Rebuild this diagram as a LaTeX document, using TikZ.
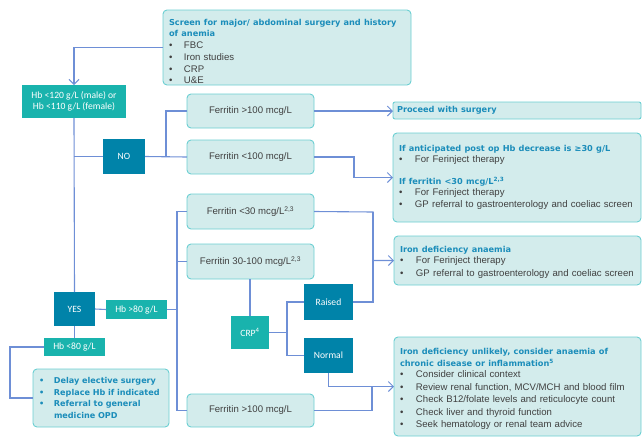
\documentclass[tikz,border=0pt]{standalone}
\usepackage{fontspec}
\setmainfont{Liberation Sans}
\newfontfamily\hdfamily{DejaVu Sans}
\newfontfamily\cbfamily{Carlito}
\usetikzlibrary{arrows.meta}
\definecolor{lightc}{HTML}{D3ECEC}
\definecolor{bordc}{HTML}{6BCFD2}
\definecolor{tealc}{HTML}{19B3AD}
\definecolor{darkc}{HTML}{0083A9}
\definecolor{linec}{HTML}{6E8FD6}
\definecolor{headc}{HTML}{1B8DBA}
\definecolor{bodyc}{HTML}{404040}
\newcommand\bodyf{\fontsize{9.6}{12.5}\selectfont}
\newcommand\hdf{\hdfamily\bfseries\fontsize{8.2}{11}\selectfont\color{headc}}
\newcommand\tlf{\cbfamily\fontsize{9.6}{11.5}\selectfont}
\newcommand\bul{\makebox[16pt][l]{\textbullet}}
\newcommand\bulb{\makebox[15pt][l]{\textbullet}}
\tikzset{
  lbox/.style={draw=bordc, fill=lightc, rounded corners=4pt, line width=0.9pt,
    inner sep=0pt, outer sep=0pt, anchor=north west, font=\bodyf, text=bodyc},
  tbox/.style={fill=tealc, inner sep=0pt, outer sep=0pt, anchor=north west,
    font=\tlf, text=white, align=center},
  dbox/.style={fill=darkc, inner sep=0pt, outer sep=0pt, anchor=north west,
    font=\tlf, text=white, align=center},
  con/.style={draw=linec, line width=1.1pt},
  arr/.style={con, -{Straight Barb[length=5pt,width=10pt,line width=1pt]}},
}
\begin{document}
\begin{tikzpicture}[x=1pt,y=-1pt]
\useasboundingbox (0,0) rectangle (643,437);

% light boxes with text
\node[lbox, minimum width=248pt, minimum height=75pt, text width=236pt, inner xsep=6pt, align=left,
  font=\fontsize{9.6}{11.7}\selectfont] (screen) at (163,10)
  {\rule{0pt}{14pt}{\hdf Screen for major/ abdominal surgery and history\\ of anemia}\\
   \bulb FBC\\ \bulb Iron studies\\ \bulb CRP\\ \bulb U\&E};

\node[lbox, rounded corners=2pt, minimum width=248pt, minimum height=17pt, text width=240pt, inner xsep=4pt, align=left] (proceed) at (393,102)
  {{\hdf Proceed with surgery}};

\node[lbox, minimum width=248pt, minimum height=89pt, text width=236pt, inner xsep=6pt, align=left] (antic) at (393,133)
  {{\hdf If anticipated post op Hb decrease is ≥30 g/L}\\[-1.5pt]
   \bul For Ferinject therapy\\[9pt]
   {\hdf If ferritin <30 mcg/L\textsuperscript{2,3}}\\[-1.5pt]
   \bul For Ferinject therapy\\
   \bul GP referral to gastroenterology and coeliac screen};

\node[lbox, minimum width=247pt, minimum height=49pt, text width=235pt, inner xsep=6pt, align=left] (ida) at (394,236)
  {\rule{0pt}{10pt}{\hdf Iron deficiency anaemia}\\[-1.5pt]
   \bul For Ferinject therapy\\
   \bul GP referral to gastroenterology and coeliac screen};

\node[lbox, minimum width=247pt, minimum height=99pt, text width=235pt, inner xsep=6pt, align=left] (unlikely) at (394,337)
  {\rule{0pt}{11pt}{\hdf Iron deficiency unlikely, consider anaemia of\\ chronic disease or inflammation\textsuperscript{5}}\\[-1.5pt]
   \bul Consider clinical context\\
   \bul Review renal function, MCV/MCH and blood film\\
   \bul Check B12/folate levels and reticulocyte count\\
   \bul Check liver and thyroid function\\
   \bul Seek hematology or renal team advice};

\node[lbox, minimum width=136pt, minimum height=58pt, text width=124pt, inner xsep=6pt, align=left,
  font=\hdfamily\bfseries\fontsize{8.1}{11.5}\selectfont, text=headc] (delay) at (33,369)
  {\bulb Delay elective surgery\\ \bulb Replace Hb if indicated\\ \bulb Referral to general\\ \hspace*{15pt}medicine OPD};

% ferritin boxes
\node[lbox, minimum width=127pt, minimum height=34pt, align=center] (f100a) at (187,94) {Ferritin >100 mcg/L};
\node[lbox, minimum width=127pt, minimum height=34pt, align=center] (f100b) at (187,140) {Ferritin <100 mcg/L};
\node[lbox, minimum width=127pt, minimum height=35pt, align=center] (f30) at (187,194) {Ferritin <30 mcg/L\textsuperscript{2,3}};
\node[lbox, minimum width=127pt, minimum height=35pt, align=center] (f30100) at (187,244) {Ferritin 30-100 mcg/L\textsuperscript{2,3}};
\node[lbox, minimum width=127pt, minimum height=33pt, align=center] (f100c) at (187,394) {Ferritin >100 mcg/L};

% teal boxes
\node[tbox, minimum width=104pt, minimum height=33pt] (hb120) at (22,85) {Hb <120 g/L (male) or\\ Hb <110 g/L (female)};
\node[tbox, minimum width=61pt, minimum height=19pt] (hb80up) at (106,300) {Hb >80 g/L};
\node[tbox, minimum width=61pt, minimum height=18pt] (hb80down) at (44,338) {Hb <80 g/L};
\node[tbox, minimum width=38pt, minimum height=33pt] (crp) at (231,316) {CRP\textsuperscript{4}};

% dark boxes
\node[dbox, minimum width=42pt, minimum height=35pt] (no) at (103,139) {NO};
\node[dbox, minimum width=41pt, minimum height=34pt] (yes) at (54,292) {YES};
\node[dbox, minimum width=49pt, minimum height=36pt] (raised) at (304,284) {Raised};
\node[dbox, minimum width=49pt, minimum height=35pt] (normal) at (304,338) {Normal};

% connectors
\coordinate (j1) at (166,157);
\coordinate (j2) at (354,157);
\coordinate (j3) at (373,212);
\coordinate (vx) at (177,0);
\coordinate (lx) at (10,0);
\coordinate (cx) at (287,0);
\coordinate (rx) at (372,0);

\draw[arr] (screen.west) -| (hb120.north);
\draw[con] (hb120.south) -- (yes.north);
\draw[con] (hb120.south |- no.west) -- (no.west);
\draw[con] (no.east) -- (f100b.west);
\draw[con] (f100a.west) -| (j1);
\draw[arr] (f100a.east) -- (f100a.east -| proceed.west);
\draw[arr] (f100b.east) -- (j2) |- (antic.west);
\draw[arr] (f30.east) -- (j3) |- (ida.west);
\draw[con] (raised.east) -| (j3);
\draw[con] (f30.west) -- (f30.west -| vx) -- (f100c.west -| vx) -- (f100c.west);
\draw[con] (f30100.west) -- (f30100.west -| vx);
\draw[con] (hb80up.east) -- (hb80up.east -| vx);
\draw[con] (yes.east) -- (hb80up.west);
\draw[con] (yes.south) -- (hb80down.north);
\draw[con] (hb80down.west) -- (hb80down.west -| lx) |- (delay.west);
\draw[con] (crp.north |- f30100.south) -- (crp.north);
\draw[con] (crp.east) -- (crp.east -| cx);
\draw[con] (raised.west) -- (raised.west -| cx) -- (normal.west -| cx) -- (normal.west);
\draw[arr] (normal.south) |- (unlikely.west);
\draw[con] (f100c.east) -- (f100c.east -| rx) -- (unlikely.west -| rx);
\end{tikzpicture}
\end{document}
